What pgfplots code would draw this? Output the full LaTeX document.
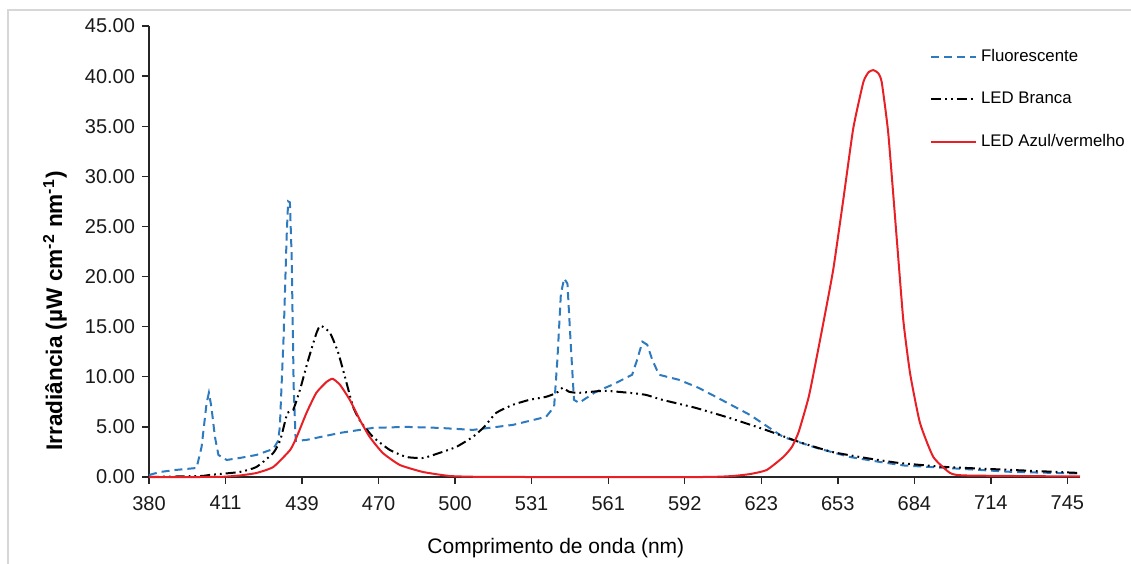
\documentclass[border=0pt]{standalone}
\usepackage{pgfplots}
\pgfplotsset{compat=1.18}
\usepackage{fontspec}
\setmainfont{Liberation Sans}
\definecolor{fluo}{RGB}{46,122,190}
\definecolor{ledred}{RGB}{232,32,38}
\definecolor{framegray}{RGB}{215,215,215}
\begin{document}
\begin{tikzpicture}[x=1pt,y=1pt]
\draw[framegray, line width=0.6pt] (-70.5pt,-60pt) -- (-70.5pt,233.5pt) -- (540pt,233.5pt);
\begin{axis}[
  at={(0,0)}, anchor=south west,
  scale only axis, width=465.5pt, height=225.5pt,
  xmin=380, xmax=750, ymin=0, ymax=45,
  axis x line*=bottom, axis y line*=left,
  axis line style={line width=0.8pt, black!85},
  tick align=outside, major tick length=3.5pt,
  tick style={line width=0.7pt, black!85},
  xtick={380,410.4167,440.8333,471.25,501.6667,532.0833,562.5,592.9167,623.3333,653.75,684.1667,714.5833,745},
  xticklabels={380,411,439,470,500,531,561,592,623,653,684,714,745},
  ytick={0,5,...,45},
  yticklabel style={/pgf/number format/.cd, fixed, fixed zerofill, precision=2, /tikz/.cd},
  xticklabel style={yshift=-2.5pt},
  /pgf/number format/assume math mode=true,
  ticklabel style={font=\fontsize{10}{12}\selectfont, text=black!90},
  xlabel={Comprimento de onda (nm)},
  ylabel={\textbf{Irradiância (µW cm\textsuperscript{-2} nm\textsuperscript{-1})}},
  xlabel style={font=\fontsize{10.5}{12}\selectfont, at={(axis description cs:0.437,-0.157)}, anchor=center},
  ylabel style={font=\fontsize{11.3}{13}\selectfont, at={(axis description cs:-0.101,0.368)}, anchor=center, rotate=0},
  legend style={draw=none, fill=none, at={(0.8385,0.957)}, anchor=north west,
    font=\fontsize{8.4}{10}\selectfont, row sep=9.6pt, inner sep=0pt, nodes={inner sep=2pt}},
  legend cell align=left,
  legend image code/.code={\draw[#1] plot coordinates {(0pt,0pt) (22.5pt,0pt)};},
  clip=false,
]
\addplot[fluo, line width=1pt, dash pattern=on 4pt off 2.5pt] coordinates {
(380,0.2) (384.4,0.5) (390.5,0.7) (398.9,0.9) (400.9,3.0) (402.9,7.4) (403.8,8.4) (404.8,7.0) (406.2,4.0) (407.6,2.2)
(410.9,1.7) (416.1,1.9) (422.7,2.2) (429.4,2.8) (431.3,3.6) (432,5.0) (433.5,14) (434.7,24) (435.3,27.5) (436,27.4)
(436.7,22) (437.5,9) (438.3,3.6) (442.6,3.7) (455.9,4.4) (469,4.9) (482.3,5.0) (495.4,4.9) (508.7,4.7) (524.6,5.2)
(537.8,6.0) (541,7.0) (542.3,11.7) (543.7,18.3) (545,19.8) (546.3,19.3) (547.6,13.3) (548.9,7.7) (550.9,7.4) (557.6,8.5)
(564.1,9.2) (572,10.2) (574,11.7) (576.1,13.5) (578,13.2) (580,11.7) (582.7,10.2) (590.6,9.7) (598.4,8.9) (604.5,8.1)
(609.8,7.4) (618.8,6.2) (632,4.0) (645.3,2.9) (658.5,2.0) (670.5,1.5) (680,1.15) (697.3,0.9) (723.5,0.5) (750,0.35)
};
\addlegendentry{Fluorescente}
\addplot[black, line width=1pt, smooth, tension=0.3, dash pattern=on 5pt off 2pt on 0.9pt off 2pt on 0.9pt off 2pt] coordinates {
(380,0.0) (400.5,0.1) (404,0.2) (416,0.5) (422.7,1.0) (429.4,2.4) (432.2,3.7) (435,6.4) (437.3,6.7) (440,8.7)
(443.3,11.7) (446.6,14.4) (448.2,15.1) (451.9,14.4) (455.2,12.4) (458.5,9.4) (461.1,7.0) (463.9,5.6) (469,4.0) (475.7,2.7)
(482.3,2.0) (489,1.9) (495.4,2.4) (502.1,3.0) (508.7,4.0) (513.2,5.0) (518,6.4) (524.6,7.2) (531.2,7.7) (537.8,8.0)
(542,8.4) (544.4,8.9) (547,8.5) (551,8.4) (561,8.6) (570.8,8.4) (577.4,8.2) (584,7.7) (597.2,6.9) (610.6,5.9)
(625.1,4.7) (638.3,3.5) (651.5,2.5) (664.8,1.9) (678.1,1.4) (696.7,1.0) (723.2,0.7) (750,0.4)
};
\addlegendentry{LED Branca}
\addplot[ledred, line width=1pt, smooth, tension=0.3] coordinates {
(380,0) (400,0) (409.4,0.02) (416,0.15) (422.7,0.4) (429.4,1.0) (436.1,2.7) (438.7,4.0) (442.6,6.4) (446.5,8.4)
(450.6,9.5) (453,9.8) (455.9,9.2) (459.8,7.7) (463.8,5.7) (467.7,4.0) (472.9,2.4) (479.7,1.2) (488.9,0.5) (499.5,0.1)
(510,0.02) (530,0) (600,0) (612,0.1) (619,0.3) (625.5,0.7) (632.1,2.0) (635.5,3.0) (638.2,4.5) (642.2,8.0) (645.4,12.0)
(648.7,16.3) (652,20.8) (656,27.8) (659.9,34.8) (663.9,39.4) (666,40.4) (667.9,40.6) (669.8,40.3) (671.2,39.4) (673.8,34.3) (677.2,23.7) (679.8,15.6)
(682.5,10.3) (686.4,5.4) (691.7,2.0) (698.4,0.4) (705,0.15) (750,0.05)
};
\addlegendentry{LED Azul/vermelho}
\end{axis}
\pgfresetboundingbox
\useasboundingbox (-74.5pt,-43pt) rectangle (491pt,238.5pt);
\end{tikzpicture}
\end{document}
